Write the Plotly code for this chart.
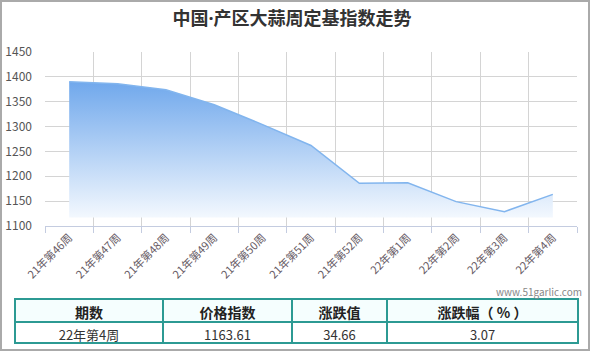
import plotly.graph_objects as go

W, H = 593, 352

categories = ["21年第46周", "21年第47周", "21年第48周", "21年第49周", "21年第50周",
              "21年第51周", "21年第52周", "22年第1周", "22年第2周", "22年第3周", "22年第4周"]
index_values = [1390, 1386, 1374, 1344, 1304, 1262, 1186, 1187, 1149, 1128.95, 1163.61]
fill_base = 1117

y_ticks = [1100, 1150, 1200, 1250, 1300, 1350, 1400, 1450]

table_header = ["期数", "价格指数", "涨跌值", "涨跌幅（ % ）"]
table_row = ["22年第4周", "1163.61", "34.66", "3.07"]

FONT = "Microsoft YaHei, Noto Sans CJK SC, sans-serif"

def px(x):
    return x / W

def py(y):
    return 1 - y / H

fig = go.Figure()

fig.add_trace(go.Scatter(
    x=categories, y=[fill_base] * len(categories), mode="lines",
    line=dict(width=0, color="rgba(0,0,0,0)"), hoverinfo="skip", showlegend=False,
))
fig.add_trace(go.Scatter(
    x=categories, y=index_values, mode="lines",
    line=dict(color="#82b5ee", width=1.5),
    fill="tonexty",
    fillgradient=dict(type="vertical", start=fill_base, stop=max(index_values),
                      colorscale=[[0, "rgba(243,248,254,1)"], [1, "rgb(112,168,236)"]]),
    showlegend=False,
))

fig.add_trace(go.Table(
    domain=dict(x=[px(15), px(578)], y=[py(346), py(299)]),
    columnwidth=[148, 129, 95, 191],
    header=dict(values=table_header, fill_color="#f5fefe",
                line=dict(color="#2c9a93", width=1.5),
                font=dict(family=FONT, size=14, color="#222", weight="bold"),
                align="center", height=23),
    cells=dict(values=[[v] for v in table_row], fill_color="white",
               line=dict(color="#2c9a93", width=1.5),
               font=dict(family=FONT, size=13, color="#333"),
               align="center", height=21),
))

title_text = ("<b>中国<span style=\"font-family:'Open Sans'\">·</span>"
              "产区大蒜周定基指数走势</b>")

fig.update_layout(
    width=W, height=H,
    margin=dict(l=0, r=0, t=0, b=0, autoexpand=False),
    paper_bgcolor="white", plot_bgcolor="white",
    font=dict(family=FONT),
    title=dict(text=title_text, x=px(292), xanchor="center",
               y=py(19), yanchor="middle",
               font=dict(family=FONT, size=18, color="#333")),
    xaxis=dict(
        domain=[px(45), px(577)], automargin=False,
        type="category", range=[-0.5, len(categories) - 0.5],
        tickson="boundaries", showgrid=True, gridcolor="#d4d4d4", gridwidth=1,
        ticks="outside", ticklen=6, tickcolor="#c4cce0",
        showline=True, linecolor="#c4cce0", linewidth=1,
        tickangle=-45, tickfont=dict(family=FONT, size=11, color="#665a64"),
        zeroline=False, fixedrange=True,
    ),
    yaxis=dict(
        domain=[py(226), py(52)], automargin=False,
        range=[1100, 1450], tickvals=y_ticks,
        showgrid=True, gridcolor="#d4d4d4", gridwidth=1,
        tickfont=dict(family=FONT, size=12, color="#555"),
        ticklabelstandoff=12, zeroline=False, fixedrange=True,
    ),
    annotations=[dict(text="www.51garlic.com", xref="paper", yref="paper",
                      x=px(584), y=py(291), xanchor="right", yanchor="middle",
                      showarrow=False, font=dict(family=FONT, size=10, color="#888"))],
    shapes=[dict(type="rect", xref="paper", yref="paper",
                 x0=px(1), x1=px(589), y0=py(350), y1=py(1),
                 line=dict(color="#aaaaaa", width=2))],
)

fig.write_html("out.html")
